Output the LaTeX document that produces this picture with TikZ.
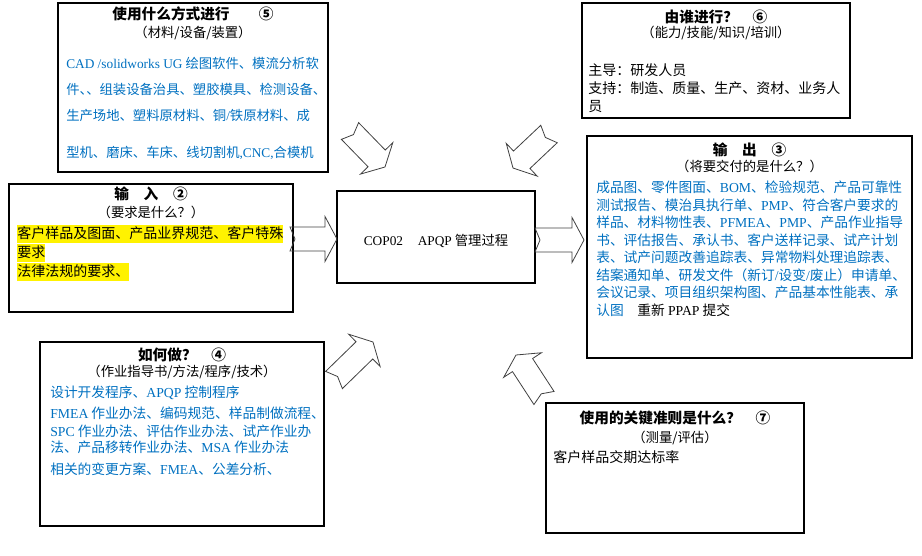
\documentclass[tikz,border=0pt]{standalone}
\usepackage{fontspec}
\setmainfont{Noto Sans CJK SC}
\newfontfamily\enfont{Liberation Serif}
\usetikzlibrary{calc}

\definecolor{textblue}{RGB}{0,112,192}
\newcommand{\en}[1]{{\enfont #1}}
\setlength{\fboxsep}{0pt}
\newcommand{\hl}[1]{\colorbox{yellow}{\rule[-3.4pt]{0pt}{13.5pt}#1}}

\tikzstyle{infobox}=[draw,
                     line width=1pt,
                     inner sep=0pt,
                     outer sep=0pt]
\tikzstyle{boxtitle}=[font={\fontsize{11pt}{13pt}\selectfont\bfseries}, anchor=base, inner sep=0pt]
\tikzstyle{boxsub}=[anchor=base, inner sep=0pt]
\tikzstyle{boxbody}=[anchor=north west,
                     align=left,
                     inner sep=0pt]
\tikzstyle{blockarrow}=[draw=black!75, line width=0.6pt, line join=miter]

% notched block arrow from tail #1 to tip #2
\newcommand{\notcharrow}[2]{%
  \draw[blockarrow]
    ($(#1)!3.75pt!(#2)$)
    -- ($(#1)!9pt!90:(#2)$)
    -- ($(#2)!9pt!(#1)!9pt!90:(#2)$)
    -- ($(#2)!9pt!(#1)!16.9pt!90:(#2)$)
    -- (#2)
    -- ($(#2)!9pt!(#1)!16.9pt!-90:(#2)$)
    -- ($(#2)!9pt!(#1)!9pt!-90:(#2)$)
    -- ($(#1)!9pt!-90:(#2)$)
    -- cycle;}

\begin{document}
\begin{tikzpicture}[x=0.75pt, y=-0.75pt]
    \useasboundingbox (0,0) rectangle (922,556);

    % boxes
    \node [infobox, minimum width=202.5pt, minimum height=126.75pt] (tools) at (193,87.5) {};
    \node [infobox, minimum width=201pt, minimum height=86.25pt] (who) at (716,60.5) {};
    \node [infobox, minimum width=243.75pt, minimum height=166.5pt] (output) at (749.5,247) {};
    \node [infobox, minimum width=213pt, minimum height=96pt] (input) at (151,248) {};
    \node [infobox, minimum width=213pt, minimum height=138pt] (how) at (182,434) {};
    \node [infobox, minimum width=193.5pt, minimum height=97.5pt] (criteria) at (675,468) {};
    \node [infobox, minimum width=148.5pt, minimum height=69pt] (process) at (436,237) {};
    \node (processtext) at ($(process.center)+(0,4)$) {\en{COP02}\hspace{11pt}\en{APQP} 管理过程};

    % titles
    \node [boxtitle] (toolstitle) at ($(tools.north)+(0,17)$) {使用什么方式进行　　⑤};
    \node [boxsub] (toolssub) at ($(tools.north)+(0,35)$) {（材料/设备/装置）};
    \node [boxtitle] (whotitle) at ($(who.north)+(0,20)$) {由谁进行？　⑥};
    \node [boxsub] (whosub) at ($(who.north)+(0,35)$) {（能力/技能/知识/培训）};
    \node [boxtitle] (outputtitle) at ($(output.north)+(0,20)$) {输　出　③};
    \node [boxsub] (outputsub) at ($(output.north)+(0,36)$) {（将要交付的是什么？）};
    \node [boxtitle] (inputtitle) at ($(input.north)+(0,16)$) {输　入　②};
    \node [boxsub] (inputsub) at ($(input.north)+(0,34)$) {（要求是什么？）};
    \node [boxtitle] (howtitle) at ($(how.north)+(0,18)$) {如何做？　④};
    \node [boxsub] (howsub) at ($(how.north)+(0,35)$) {（作业指导书/方法/程序/技术）};
    \node [boxtitle] (criteriatitle) at ($(criteria.north)+(0,20)$) {使用的关键准则是什么？　⑦};
    \node [boxsub] (criteriasub) at ($(criteria.north)+(0,39)$) {（测量/评估）};

    % contents
    \node [boxbody, text=textblue, font={\fontsize{10pt}{19.5pt}\selectfont}] (toolsbody) at (66,57)
        {\en{CAD /solidworks UG} 绘图软件、模流分析软\\
         件、\hspace{-5pt}、组装设备治具、塑胶模具、检测设备、\\
         生产场地、塑料原材料、铜\en{/}铁原材料、成\\[8pt]
         型机、磨床、车床、线切割机\en{,CNC,}合模机};
    \node [boxbody, font={\fontsize{10.5pt}{13.5pt}\selectfont}] (whobody) at (588,63)
        {主导：研发人员\\
         支持：制造、质量、生产、资材、业务人\\
         员};
    \node [boxbody, text=textblue, font={\fontsize{10.3pt}{13.1pt}\selectfont}] (outputbody) at (596,181)
        {成品图、零件图面、\en{BOM}、检验规范、产品可靠性\\
         测试报告、模治具执行单、\en{PMP}、符合客户要求的\\
         样品、材料物性表、\en{PFMEA}、\en{PMP}、产品作业指导\\
         书、评估报告、承认书、客户送样记录、试产计划\\
         表、试产问题改善追踪表、异常物料处理追踪表、\\
         结案通知单、研发文件（新订\en{/}设变\en{/}废止）申请单、\\
         会议记录、项目组织架构图、产品基本性能表、承\\
         认图　{\color{black}重新 \en{PPAP} 提交}};
    \node [boxbody, font={\fontsize{10.5pt}{14.25pt}\selectfont}] (inputbody) at (17,225)
        {\hl{客户样品及图面、产品业界规范、客户特殊}\\
         \hl{要求}\\
         \hl{法律法规的要求、}};
    \node [boxbody, text=textblue, font={\fontsize{10.3pt}{12pt}\selectfont}] (howbody) at (50,386)
        {设计开发程序、\en{APQP} 控制程序\\[3.75pt]
         \en{FMEA} 作业办法、编码规范、样品制做流程、\\[1.5pt]
         \en{SPC} 作业办法、评估作业办法、试产作业办\\
         法、产品移转作业办法、\en{MSA} 作业办法\\[4.5pt]
         相关的变更方案、\en{FMEA}、公差分析、};
    \node [boxbody, font={\fontsize{10.5pt}{13pt}\selectfont}] (criteriabody) at (553,450) {客户样品交期达标率};

    % block arrows
    \coordinate (inA) at (290,239);    \coordinate (inB) at (337,239);
    \coordinate (outA) at (535,240);   \coordinate (outB) at (584,240);
    \coordinate (toolsA) at (350,131); \coordinate (toolsB) at (385,167);
    \coordinate (whoA) at (549,134);   \coordinate (whoB) at (513,168);
    \coordinate (howA) at (334,380);   \coordinate (howB) at (373,342);
    \coordinate (critA) at (544,398);  \coordinate (critB) at (516,355);
    \notcharrow{inA}{inB}
    \notcharrow{outA}{outB}
    \notcharrow{toolsA}{toolsB}
    \notcharrow{whoA}{whoB}
    \notcharrow{howA}{howB}
    \notcharrow{critA}{critB}
\end{tikzpicture}
\end{document}
